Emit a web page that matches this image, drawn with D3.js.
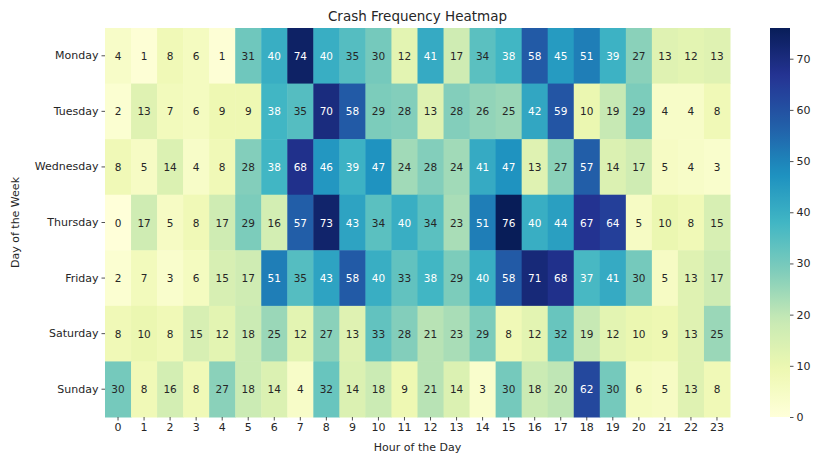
<!DOCTYPE html>
<html>
<head>
<meta charset="utf-8">
<script src="https://cdn.jsdelivr.net/npm/d3@7"></script>
<style>
  body { margin: 0; background: #fff; }
  svg { font-family: "DejaVu Sans", sans-serif; }
</style>
</head>
<body>
<svg id="chart" width="814" height="458"></svg>
<script>
// Crash counts by weekday and hour
const days = ["Monday", "Tuesday", "Wednesday", "Thursday", "Friday", "Saturday", "Sunday"];
const hours = d3.range(24).map(String);
const monday    = [4, 1, 8, 6, 1, 31, 40, 74, 40, 35, 30, 12, 41, 17, 34, 38, 58, 45, 51, 39, 27, 13, 12, 13];
const tuesday   = [2, 13, 7, 6, 9, 9, 38, 35, 70, 58, 29, 28, 13, 28, 26, 25, 42, 59, 10, 19, 29, 4, 4, 8];
const wednesday = [8, 5, 14, 4, 8, 28, 38, 68, 46, 39, 47, 24, 28, 24, 41, 47, 13, 27, 57, 14, 17, 5, 4, 3];
const thursday  = [0, 17, 5, 8, 17, 29, 16, 57, 73, 43, 34, 40, 34, 23, 51, 76, 40, 44, 67, 64, 5, 10, 8, 15];
const friday    = [2, 7, 3, 6, 15, 17, 51, 35, 43, 58, 40, 33, 38, 29, 40, 58, 71, 68, 37, 41, 30, 5, 13, 17];
const saturday  = [8, 10, 8, 15, 12, 18, 25, 12, 27, 13, 33, 28, 21, 23, 29, 8, 12, 32, 19, 12, 10, 9, 13, 25];
const sunday    = [30, 8, 16, 8, 27, 18, 14, 4, 32, 14, 18, 9, 21, 14, 3, 30, 18, 20, 62, 30, 6, 5, 13, 8];
const colorbarTicks = [0, 10, 20, 30, 40, 50, 60, 70];
// YlGnBu anchor colours, interpolated linearly between stops
const ylgnbu = ["#ffffd9", "#edf8b1", "#c7e9b4", "#7fcdbb", "#41b6c4", "#1d91c0", "#225ea8", "#253494", "#081d58"];

const rows = [monday, tuesday, wednesday, thursday, friday, saturday, sunday];
const cells = [];
rows.forEach((r, i) => r.forEach((v, j) => cells.push({ day: days[i], hour: hours[j], value: v })));

const svg = d3.select("#chart");
const margin = { left: 105, top: 28, right: 730, bottom: 417 };

const x = d3.scaleBand().domain(hours).range([margin.left, margin.right]);
const y = d3.scaleBand().domain(days).range([margin.top, margin.bottom]);
const vmax = d3.max(cells, d => d.value);
const interp = d3.piecewise(d3.interpolateRgb, ylgnbu);
const color = d3.scaleSequential(interp).domain([0, vmax]);

// Relative luminance decides the annotation colour
function textColor(c) {
  const rgb = d3.rgb(c);
  const lin = v => { v /= 255; return v <= 0.03928 ? v / 12.92 : Math.pow((v + 0.055) / 1.055, 2.4); };
  const L = 0.2126 * lin(rgb.r) + 0.7152 * lin(rgb.g) + 0.0722 * lin(rgb.b);
  return L > 0.408 ? "#262626" : "#ffffff";
}

const g = svg.append("g");
g.selectAll("rect.cell").data(cells).join("rect")
  .attr("class", "cell")
  .attr("x", d => x(d.hour))
  .attr("y", d => y(d.day))
  .attr("width", x.bandwidth() + 0.5)
  .attr("height", y.bandwidth() + 0.5)
  .attr("fill", d => color(d.value));

g.selectAll("text.val").data(cells).join("text")
  .attr("class", "val")
  .attr("x", d => x(d.hour) + x.bandwidth() / 2)
  .attr("y", d => y(d.day) + y.bandwidth() / 2)
  .attr("text-anchor", "middle")
  .attr("dominant-baseline", "central")
  .attr("font-size", 10.5)
  .attr("fill", d => textColor(color(d.value)))
  .text(d => d.value);

// Axes
const xAxis = svg.append("g")
  .attr("transform", `translate(0,${margin.bottom})`)
  .call(d3.axisBottom(x).tickSize(3.5).tickPadding(3));
const yAxis = svg.append("g")
  .attr("transform", `translate(${margin.left},0)`)
  .call(d3.axisLeft(y).tickSize(3.5).tickPadding(3));
[xAxis, yAxis].forEach(a => {
  a.select(".domain").remove();
  a.selectAll("text").attr("font-size", 11).attr("fill", "#262626").attr("font-family", "DejaVu Sans");
  a.selectAll("line").attr("stroke", "#262626").attr("stroke-width", 0.8);
});

svg.append("text")
  .attr("x", (margin.left + margin.right) / 2)
  .attr("y", 451)
  .attr("text-anchor", "middle")
  .attr("font-size", 11)
  .attr("fill", "#262626")
  .text("Hour of the Day");

svg.append("text")
  .attr("transform", `translate(19,${(margin.top + margin.bottom) / 2}) rotate(-90)`)
  .attr("text-anchor", "middle")
  .attr("font-size", 11)
  .attr("fill", "#262626")
  .text("Day of the Week");

svg.append("text")
  .attr("x", (margin.left + margin.right) / 2)
  .attr("y", 21)
  .attr("text-anchor", "middle")
  .attr("font-size", 13.5)
  .attr("fill", "#262626")
  .text("Crash Frequency Heatmap");

// Colour bar
const cbX = 770, cbW = 20;
const cbScale = d3.scaleLinear().domain([0, vmax]).range([margin.bottom, margin.top]);
const defs = svg.append("defs");
const grad = defs.append("linearGradient").attr("id", "cbgrad")
  .attr("x1", 0).attr("y1", 1).attr("x2", 0).attr("y2", 0);
d3.range(0, 1.0001, 0.02).forEach(t => {
  grad.append("stop").attr("offset", t).attr("stop-color", color(t * vmax));
});
svg.append("rect")
  .attr("x", cbX).attr("y", margin.top)
  .attr("width", cbW).attr("height", margin.bottom - margin.top)
  .attr("fill", "url(#cbgrad)");
const cbAxis = svg.append("g")
  .attr("transform", `translate(${cbX + cbW},0)`)
  .call(d3.axisRight(cbScale).tickValues(colorbarTicks).tickSize(3.5).tickPadding(3));
cbAxis.select(".domain").remove();
cbAxis.selectAll("text").attr("font-size", 11).attr("fill", "#262626").attr("font-family", "DejaVu Sans");
cbAxis.selectAll("line").attr("stroke", "#262626").attr("stroke-width", 0.8);
</script>
</body>
</html>
